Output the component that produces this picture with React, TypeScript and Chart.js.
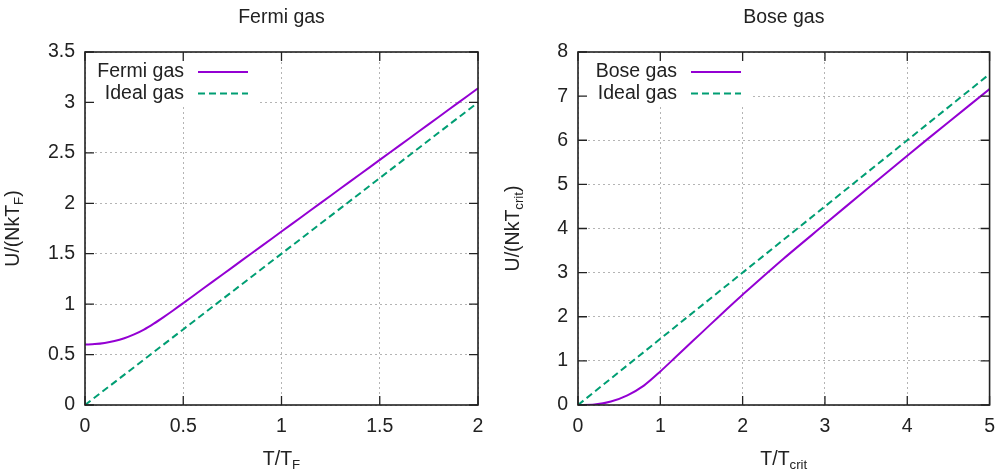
import React, { useEffect, useRef } from "react";
import { Chart, registerables } from "chart.js";

Chart.register(...registerables);

const FONT = "'Liberation Sans', Arial, Helvetica, sans-serif";
const FS = 19.5;
const TEXT = "#222";

// ---- Fermi gas panel data ----
const fermiT = [0, 0.05, 0.1, 0.15, 0.2, 0.25, 0.3, 0.35, 0.4, 0.45, 0.5, 0.6, 0.7, 0.8, 0.9, 1.0, 1.1, 1.2, 1.3, 1.4, 1.5, 1.6, 1.7, 1.8, 1.9, 2.0];
const fermiU = [0.6, 0.604, 0.615, 0.634, 0.662, 0.7, 0.748, 0.807, 0.872, 0.94, 1.01, 1.152, 1.294, 1.436, 1.578, 1.72, 1.862, 2.004, 2.146, 2.288, 2.43, 2.572, 2.714, 2.856, 2.998, 3.14];
const fermiIdealT = [0, 2];
const fermiIdealU = [0, 3];

// ---- Bose gas panel data ----
const boseT = [0, 0.2, 0.4, 0.6, 0.8, 1.0, 1.2, 1.4, 1.6, 1.8, 2.0, 2.5, 3.0, 3.5, 4.0, 4.5, 5.0];
const boseU = [0, 0.01, 0.08, 0.22, 0.44, 0.76, 1.11, 1.46, 1.81, 2.16, 2.5, 3.32, 4.1, 4.88, 5.65, 6.41, 7.16];
const boseIdealT = [0, 5];
const boseIdealU = [0, 7.5];

const PURPLE = "#9400d3";
const GREEN = "#009e73";

function pts(xs: number[], ys: number[]) {
  return xs.map((x, i) => ({ x, y: ys[i] }));
}

function drawSubText(ctx: CanvasRenderingContext2D, main: string, sub: string, tail: string, cx: number, cy: number) {
  const bigFont = `${FS}px ${FONT}`;
  const smallFont = `${FS * 0.68}px ${FONT}`;
  ctx.font = bigFont;
  const w1 = ctx.measureText(main).width;
  const w3 = ctx.measureText(tail).width;
  ctx.font = smallFont;
  const w2 = ctx.measureText(sub).width;
  const total = w1 + w2 + w3;
  let x = cx - total / 2;
  const base = cy + 7;
  ctx.textAlign = "left";
  ctx.textBaseline = "alphabetic";
  ctx.fillStyle = TEXT;
  ctx.font = bigFont;
  ctx.fillText(main, x, base);
  x += w1;
  ctx.font = smallFont;
  ctx.fillText(sub, x, base + 4);
  x += w2;
  ctx.font = bigFont;
  ctx.fillText(tail, x, base);
}

const gnuplotDecor = {
  id: "gnuplotDecor",
  afterDatasetsDraw(chart: any, _args: any, opts: any) {
    const ctx: CanvasRenderingContext2D = chart.ctx;
    const a = chart.chartArea;
    const xs = chart.scales.x;
    const ys = chart.scales.y;
    ctx.save();
    // key box
    ctx.fillStyle = "#ffffff";
    ctx.fillRect(a.left + 3, a.top + 1, 170, 54);
    ctx.font = `${FS}px ${FONT}`;
    ctx.textAlign = "right";
    ctx.textBaseline = "middle";
    chart.data.datasets.forEach((ds: any, i: number) => {
      const y = a.top + 20 + i * 21.5;
      ctx.fillStyle = TEXT;
      ctx.fillText(ds.label, a.left + 99, y);
      ctx.strokeStyle = ds.borderColor;
      ctx.lineWidth = 2;
      ctx.setLineDash(ds.borderDash || []);
      ctx.beginPath();
      ctx.moveTo(a.left + 113, y);
      ctx.lineTo(a.left + 163, y);
      ctx.stroke();
    });
    ctx.setLineDash([]);
    // inward ticks on all sides
    ctx.strokeStyle = TEXT;
    ctx.lineWidth = 1.3;
    ctx.beginPath();
    xs.ticks.forEach((t: any) => {
      const px = xs.getPixelForValue(t.value);
      ctx.moveTo(px, a.bottom);
      ctx.lineTo(px, a.bottom - 9);
      ctx.moveTo(px, a.top);
      ctx.lineTo(px, a.top + 9);
    });
    ys.ticks.forEach((t: any) => {
      const py = ys.getPixelForValue(t.value);
      ctx.moveTo(a.left, py);
      ctx.lineTo(a.left + 9, py);
      ctx.moveTo(a.right, py);
      ctx.lineTo(a.right - 9, py);
    });
    ctx.stroke();
    // border
    ctx.lineWidth = 1.6;
    ctx.strokeRect(a.left, a.top, a.right - a.left, a.bottom - a.top);
    // axis titles
    const xt = opts.xTitle;
    drawSubText(ctx, xt[0], xt[1], xt[2], (a.left + a.right) / 2, 458);
    const yt = opts.yTitle;
    ctx.save();
    ctx.translate(opts.yTitleX, (a.top + a.bottom) / 2);
    ctx.rotate(-Math.PI / 2);
    drawSubText(ctx, yt[0], yt[1], yt[2], 0, 0);
    ctx.restore();
    ctx.restore();
  },
};

type PanelProps = {
  left: number;
  width: number;
  title: string;
  datasets: any[];
  xMax: number;
  xStep: number;
  yMax: number;
  yStep: number;
  yAxisWidth: number;
  rightPad: number;
  xTitle: string[];
  yTitle: string[];
  yTitleX: number;
};

const fmt = (v: any) => String(Number(v));

function Panel(p: PanelProps) {
  const ref = useRef<HTMLCanvasElement | null>(null);
  useEffect(() => {
    if (!ref.current) return;
    const tickFont = { family: FONT, size: FS };
    const chart = new Chart(ref.current, {
      type: "scatter",
      data: { datasets: p.datasets },
      plugins: [gnuplotDecor as any],
      options: {
        responsive: false,
        animation: false,
        events: [],
        layout: { padding: { left: 0, right: p.rightPad, top: 0, bottom: 0 } },
        plugins: {
          legend: { display: false },
          tooltip: { enabled: false },
          title: {
            display: true,
            text: p.title,
            fullSize: false,
            color: TEXT,
            font: { family: FONT, size: FS, weight: "normal" as any, lineHeight: 1.2 },
            padding: { top: 6, bottom: 22.6 },
          },
          gnuplotDecor: { xTitle: p.xTitle, yTitle: p.yTitle, yTitleX: p.yTitleX },
        } as any,
        scales: {
          x: {
            type: "linear",
            min: 0,
            max: p.xMax,
            ticks: { stepSize: p.xStep, color: TEXT, font: tickFont, padding: 10, maxRotation: 0, callback: fmt },
            grid: { color: "#b4b4b4", lineWidth: 1, drawTicks: false },
            border: { display: false, dash: [2, 3] },
            afterFit: (s: any) => {
              s.height = 69;
            },
          },
          y: {
            type: "linear",
            min: 0,
            max: p.yMax,
            ticks: { stepSize: p.yStep, color: TEXT, font: tickFont, padding: 10, callback: fmt },
            grid: { color: "#b4b4b4", lineWidth: 1, drawTicks: false },
            border: { display: false, dash: [2, 3] },
            afterFit: (s: any) => {
              s.width = p.yAxisWidth;
            },
          },
        },
      } as any,
    });
    return () => chart.destroy();
  }, []);
  return (
    <canvas
      ref={ref}
      width={p.width}
      height={474}
      style={{ position: "absolute", left: p.left, top: 0, width: p.width, height: 474 }}
    />
  );
}

const lineStyle = (color: string, dash?: number[], smooth?: boolean) => ({
  borderColor: color,
  backgroundColor: color,
  borderWidth: 2,
  borderDash: dash || [],
  pointRadius: 0,
  showLine: true,
  fill: false,
  tension: smooth ? 0.3 : 0,
});

export default function App() {
  const fermiSets = [
    { label: "Fermi gas", data: pts(fermiT, fermiU), ...lineStyle(PURPLE, undefined, true) },
    { label: "Ideal gas", data: pts(fermiIdealT, fermiIdealU), ...lineStyle(GREEN, [7, 4]) },
  ];
  const boseSets = [
    { label: "Bose gas", data: pts(boseT, boseU), ...lineStyle(PURPLE, undefined, true) },
    { label: "Ideal gas", data: pts(boseIdealT, boseIdealU), ...lineStyle(GREEN, [7, 4]) },
  ];
  return (
    <div style={{ position: "absolute", left: 0, top: 0, width: 1005, height: 474, background: "#fff" }}>
      <Panel
        left={0}
        width={502}
        title="Fermi gas"
        datasets={fermiSets}
        xMax={2}
        xStep={0.5}
        yMax={3.5}
        yStep={0.5}
        yAxisWidth={85}
        rightPad={24}
        xTitle={["T/T", "F", ""]}
        yTitle={["U/(NkT", "F", ")"]}
        yTitleX={12}
      />
      <Panel
        left={502}
        width={503}
        title="Bose gas"
        datasets={boseSets}
        xMax={5}
        xStep={1}
        yMax={8}
        yStep={1}
        yAxisWidth={76}
        rightPad={13}
        xTitle={["T/T", "crit", ""]}
        yTitle={["U/(NkT", "crit", ")"]}
        yTitleX={10}
      />
    </div>
  );
}
